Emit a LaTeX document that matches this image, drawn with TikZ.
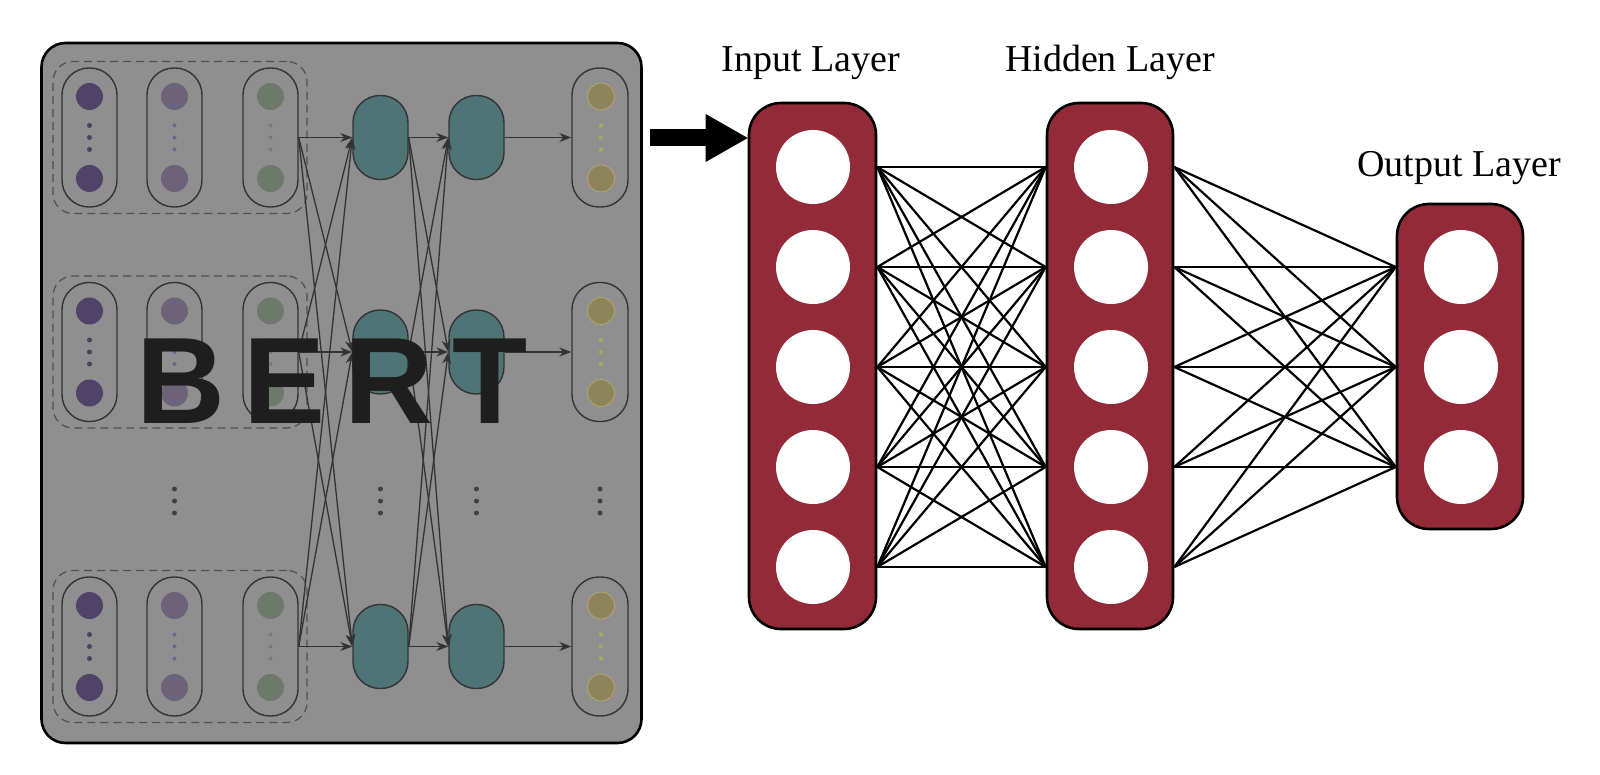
\documentclass[tikz,border=0pt]{standalone}
\usepackage{fontspec}
\setmainfont{Liberation Serif}
\newfontfamily\bertfont{Liberation Sans}
\usetikzlibrary{arrows.meta,calc}
\definecolor{bgray}{HTML}{8F8F8F}
\definecolor{linec}{HTML}{333333}
\definecolor{dashc}{HTML}{505050}
\definecolor{tealc}{HTML}{4E7476}
\definecolor{pa}{HTML}{4F4468}
\definecolor{pad}{HTML}{4A4062}
\definecolor{pb}{HTML}{6C6279}
\definecolor{pbd}{HTML}{6E6680}
\definecolor{gc}{HTML}{6D796B}
\definecolor{gcd}{HTML}{737C72}
\definecolor{oc}{HTML}{8E845C}
\definecolor{ocl}{HTML}{B2AA70}
\definecolor{odc}{HTML}{A8A862}
\definecolor{vdotc}{HTML}{404040}
\definecolor{bertc}{HTML}{1E1E1E}
\definecolor{redc}{RGB}{147,42,55}
\begin{document}
\begin{tikzpicture}[x=1pt,y=-1pt,
  bertbox/.style={draw=black, line width=2.6pt, fill=bgray, rounded corners=24pt, minimum width=600pt, minimum height=700pt, inner sep=0pt},
  grp/.style={draw=dashc, line width=1.2pt, dash pattern=on 8pt off 5pt, rounded corners=20pt, minimum width=254pt, minimum height=152pt, inner sep=0pt},
  pill/.style={draw=linec, line width=1.4pt, rounded corners=27pt, minimum width=55pt, minimum height=139pt, inner sep=0pt},
  enc/.style={draw=linec, line width=1.4pt, fill=tealc, rounded corners=27pt, minimum width=55pt, minimum height=84pt, inner sep=0pt},
  tok/.style={circle, inner sep=0pt, minimum size=27pt},
  sdot/.style={circle, inner sep=0pt, minimum size=4.5pt},
  vdot/.style={circle, inner sep=0pt, minimum size=5pt, fill=vdotc},
  conn/.style={draw=linec, line width=1.3pt, -{Stealth[length=12pt,width=9pt]}},
  layerbox/.style={draw=black, line width=2.6pt, fill=redc, rounded corners=32pt, inner sep=0pt},
  neuron/.style={circle, fill=white, inner sep=0pt, minimum size=74pt},
  wire/.style={draw=black, line width=2.2pt},
  lbl/.style={font=\fontsize{38}{40}\selectfont, anchor=base, inner sep=0pt},
]
\useasboundingbox (0,0) rectangle (1600,775);
\fill[white] (0,0) rectangle (1600,775);

% ---------- BERT panel ----------
\node[bertbox] (bert) at (341.5,393) {};

\foreach \r/\yy in {1/137.5,2/352,3/646.5}{
  \node[grp] (g\r) at (180,\yy) {};
  \foreach \c/\xx/\cc/\dc/\ds in {a/89.5/pa/pad/5pt, b/174.5/pb/pbd/4pt, c/270.5/gc/gcd/4pt}{
    \node[pill] (\c\r) at (\xx,\yy) {};
    \node[tok, fill=\cc] (\c\r u) at (\xx,\yy-41) {};
    \node[tok, fill=\cc] (\c\r l) at (\xx,\yy+41) {};
    \foreach \k in {1,2,3}
      \node[sdot, fill=\dc, minimum size=\ds] (\c\r d\k) at (\xx,\yy+12*\k-24) {};
  }
  \node[enc] (e\r) at (380.5,\yy) {};
  \node[enc] (f\r) at (476.5,\yy) {};
  \node[pill, minimum width=56pt] (o\r) at (600,\yy) {};
  \node[tok, fill=oc, draw=ocl, line width=0.8pt] (o\r u) at (601,\yy-41) {};
  \node[tok, fill=oc, draw=ocl, line width=0.8pt] (o\r l) at (601,\yy+41) {};
  \foreach \k in {1,2,3}
    \node[sdot, fill=odc] (o\r d\k) at (601,\yy+12*\k-24) {};
}

\foreach \xx/\n in {174.5/1,380.5/2,476.5/3,600/4}
  \foreach \k in {1,2,3}
    \node[vdot] (v\n\k) at (\xx,477+12*\k) {};

\foreach \i in {1,2,3}
  \foreach \j in {1,2,3}
    \draw[conn] (c\i.east) -- (e\j.west);
\foreach \i in {1,2,3}
  \foreach \j in {1,2,3}
    \draw[conn] (e\i.east) -- (f\j.west);
\foreach \i in {1,2,3}
  \draw[conn] (f\i.east) -- (o\i.west);

\node[anchor=base west, inner sep=0pt, text=bertc,
      font=\bertfont\bfseries\fontsize{123}{123}\selectfont] (berttxt) at (136,423)
      {B\kern19pt E\kern19pt R\kern19pt T};

% ---------- right network ----------
\node[layerbox, minimum width=127pt, minimum height=526pt] (inbox) at (812.5,366) {};
\node[layerbox, minimum width=126pt, minimum height=526pt] (hidbox) at (1110,366) {};
\node[layerbox, minimum width=126pt, minimum height=325pt] (outbox) at (1460,366.5) {};
\foreach \k in {1,...,5}{
  \node[neuron] (in\k) at (813,67+100*\k) {};
  \node[neuron] (hd\k) at (1111,67+100*\k) {};
}
\foreach \k in {1,2,3}
  \node[neuron] (ot\k) at (1461,167+100*\k) {};

\foreach \i in {1,...,5}
  \foreach \j in {1,...,5}
    \draw[wire] (in\i -| inbox.east) -- (hd\j -| hidbox.west);
\foreach \i in {1,...,5}
  \foreach \j in {1,2,3}
    \draw[wire] (hd\i -| hidbox.east) -- (ot\j -| outbox.west);

\coordinate (arrs) at (650,138);
\draw[black, line width=17pt, -{Triangle[length=42pt,width=48pt,line width=0pt]}] (arrs) -- (arrs -| inbox.west);

\node[lbl] (linp) at (811,72) {Input Layer};
\node[lbl] (lhid) at (1110,72) {Hidden Layer};
\node[lbl] (lout) at (1459,177) {Output Layer};
\end{tikzpicture}
\end{document}
